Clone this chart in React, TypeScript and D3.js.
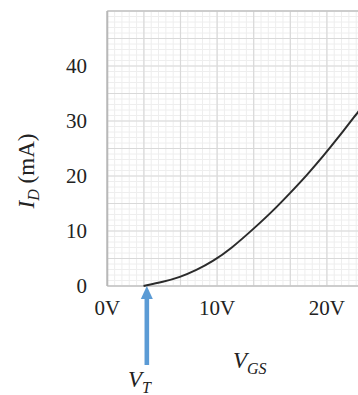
import React, { useEffect } from 'react';
import * as d3 from 'd3';

// transfer curve of the MOSFET
const vgs = [3.3, 5.1, 6.6, 8.1, 9.65, 11.2, 13.6, 15.1, 16.6, 18.2, 19.7, 21.0, 22.7, 22.9];
const idmA = [0, 0.75, 1.6, 2.85, 4.55, 6.65, 10.9, 13.7, 16.8, 20.2, 23.7, 26.9, 31.3, 31.8];
const xTicks = [0, 10, 20];
const yTicks = [0, 10, 20, 30, 40];
const vtMarker = 3.6;

const W = 358, H = 395;
const serif = '"Liberation Serif", "DejaVu Serif", serif';

export default function App() {
  useEffect(() => {
    document.body.style.margin = '0';
  }, []);

  const x = d3.scaleLinear().domain([0, 25]).range([107.3, 381.8]);
  const y = d3.scaleLinear().domain([0, 50]).range([286, 11]);

  const xMinor = d3.range(0, 25.01, 2 / 3);
  const xMajor = d3.range(0, 25.01, 10 / 3);
  const yMinor = d3.range(0, 50.01, 1);
  const yMajor = d3.range(0, 50.01, 5);

  const line = d3.line<number>()
    .x((d, i) => x(vgs[i]))
    .y(d => y(d))
    .curve(d3.curveBasis);

  const [y0, y1] = y.range();
  const x0 = x.range()[0];
  const ax = x(vtMarker);

  return (
    <svg width={W} height={H} style={{ display: 'block', background: '#fff' }}>
      <g>
        {xMinor.map((v, i) => (
          <line key={'xm' + i} x1={x(v)} x2={x(v)} y1={y1} y2={y0} stroke="#eeeeee" strokeWidth={1} />
        ))}
        {yMinor.map((v, i) => (
          <line key={'ym' + i} x1={x0} x2={W} y1={y(v)} y2={y(v)} stroke="#eeeeee" strokeWidth={1} />
        ))}
        {xMajor.map((v, i) => (
          <line key={'xM' + i} x1={x(v)} x2={x(v)} y1={y1} y2={y0} stroke="#d9d9d9" strokeWidth={1.2} />
        ))}
        {yMajor.map((v, i) => (
          <line key={'yM' + i} x1={x0} x2={W} y1={y(v)} y2={y(v)} stroke="#d9d9d9" strokeWidth={1.2} />
        ))}
        <line x1={x0} x2={W} y1={y1} y2={y1} stroke="#c4c4c4" strokeWidth={1.5} />
        <line x1={x0} x2={W} y1={y0} y2={y0} stroke="#c4c4c4" strokeWidth={1.5} />
        <line x1={x0} x2={x0} y1={y1} y2={y0} stroke="#b8b8b8" strokeWidth={2} />
      </g>

      <path d={line(idmA) || ''} fill="none" stroke="#2b2b2b" strokeWidth={2} />

      <g fontFamily={serif} fontSize={21} fill="#222">
        {yTicks.map(t => (
          <text key={'yt' + t} x={87} y={y(t)} dy="0.35em" textAnchor="end">{t}</text>
        ))}
        {xTicks.map(t => (
          <text key={'xt' + t} x={x(t)} y={315} textAnchor="middle">{t}V</text>
        ))}
      </g>

      <text transform="translate(34,171) rotate(-90)" fontFamily={serif} fontSize={23} fill="#222" textAnchor="middle">
        <tspan fontStyle="italic">I</tspan>
        <tspan fontStyle="italic" fontSize={16} dy={5}>D</tspan>
        <tspan dy={-5}> (mA)</tspan>
      </text>

      <text x={233} y={368} fontFamily={serif} fontSize={23} fill="#222" fontStyle="italic">
        V<tspan fontSize={16} dy={6}>GS</tspan>
      </text>

      <g fill="#5b9bd5">
        <rect x={ax - 2.3} y={296} width={4.6} height={69} />
        <polygon points={`${ax},${y0} ${ax - 6},${y0 + 13} ${ax + 6},${y0 + 13}`} />
      </g>
      <text x={128} y={387} fontFamily={serif} fontSize={23} fill="#222" fontStyle="italic">
        V<tspan fontSize={16} dy={6}>T</tspan>
      </text>
    </svg>
  );
}
